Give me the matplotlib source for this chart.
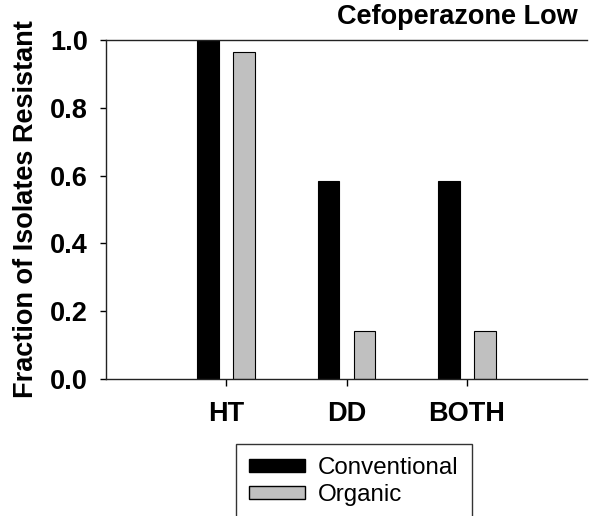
import numpy as np
import matplotlib
matplotlib.use('Agg')
import matplotlib.pyplot as plt
from matplotlib.patches import Patch

plt.rcParams['font.family'] = ['Liberation Sans', 'DejaVu Sans']

groups = ['HT', 'DD', 'BOTH']
conventional = [1.0, 0.583, 0.583]
organic = [0.964, 0.143, 0.143]

fig = plt.figure(figsize=(5.89, 5.16), dpi=100)
ax = fig.add_axes([106 / 589, 137 / 516, 481 / 589, 339 / 516])

x = np.arange(1, len(groups) + 1)
w = 0.18
ax.bar(x - 0.15, conventional, width=w, color='black', edgecolor='black', linewidth=0.8, label='Conventional')
ax.bar(x + 0.15, organic, width=w, color='#c0c0c0', edgecolor='black', linewidth=0.8, label='Organic')

ax.set_xlim(0, 4)
ax.set_ylim(0, 1.0)
ax.set_xticks(x)
ax.set_xticklabels(groups, fontsize=19.5, fontweight='bold')
ax.set_yticks([0.0, 0.2, 0.4, 0.6, 0.8, 1.0])
ax.set_yticklabels([f'{v:.1f}' for v in [0.0, 0.2, 0.4, 0.6, 0.8, 1.0]], fontsize=19.5, fontweight='bold')
ax.tick_params(axis='y', direction='out', length=4, width=1, pad=9)
ax.tick_params(axis='x', direction='out', length=5, width=1, pad=11)
ax.spines['right'].set_visible(False)
for s in ['left', 'top', 'bottom']:
    ax.spines[s].set_linewidth(1)
    ax.spines[s].set_color('#222222')

ax.set_ylabel('Fraction of Isolates Resistant', fontsize=19.5, fontweight='bold', labelpad=8)
fig.text(578 / 589, 1 - 17 / 516, 'Cefoperazone Low', fontsize=19.5, fontweight='bold',
         ha='right', va='center')

handles = [Patch(facecolor='black', edgecolor='black', label='Conventional'),
           Patch(facecolor='#c0c0c0', edgecolor='black', label='Organic')]
leg = fig.legend(handles=handles, loc='upper left', bbox_to_anchor=(236 / 589, 72 / 516),
                 fontsize=17.4, frameon=True, fancybox=False, handlelength=2.3, handleheight=0.45,
                 handletextpad=0.55, labelspacing=0.2, borderpad=0.55, borderaxespad=0)
leg.get_frame().set_edgecolor('black')
leg.get_frame().set_linewidth(1)

fig.savefig('out.png', dpi=100)
